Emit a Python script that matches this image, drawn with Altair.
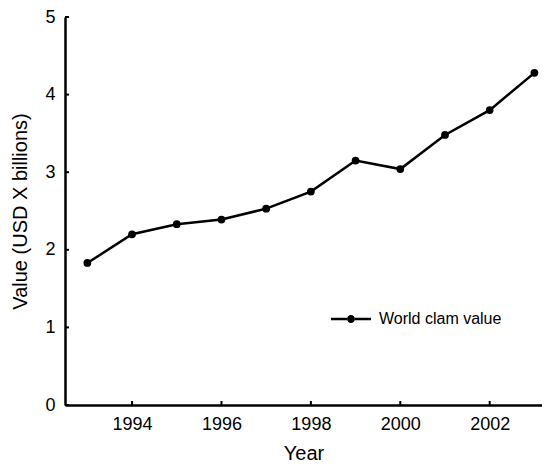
import altair as alt
import pandas as pd

years = [1993, 1994, 1995, 1996, 1997, 1998, 1999, 2000, 2001, 2002, 2003]
values = [1.83, 2.20, 2.33, 2.39, 2.53, 2.75, 3.15, 3.04, 3.48, 3.80, 4.28]
series_name = "World clam value"
x_ticks = [1994, 1996, 1998, 2000, 2002]
y_ticks = [0, 1, 2, 3, 4, 5]

df = pd.DataFrame({"Year": years, "Value": values, "Series": [series_name] * len(years)})
xt = pd.DataFrame({"t": x_ticks})
yt = pd.DataFrame({"t": y_ticks})

W, H = 477, 388
FONT = "Liberation Sans"
xscale = alt.Scale(domain=[1992.5, 2003.17], nice=False, zero=False)
yscale = alt.Scale(domain=[0, 5], nice=False)

legend_path = (
    "M-1,-0.0625L-0.2,-0.0625L-0.2,0.0625L-1,0.0625Z"
    "M0.2,-0.0625L1,-0.0625L1,0.0625L0.2,0.0625Z"
    "M-0.2,0A0.2,0.2,0,1,0,0.2,0A0.2,0.2,0,1,0,-0.2,0Z"
)

xaxis = alt.Axis(values=x_ticks, format="d", ticks=False, grid=False,
                 domainColor="black", domainWidth=2.5,
                 labelFont=FONT, labelFontSize=18, labelColor="black", labelPadding=10,
                 title="Year", titleFont=FONT, titleFontSize=20, titleFontWeight="normal",
                 titleColor="black", titlePadding=10)
yaxis = alt.Axis(values=y_ticks, format="d", ticks=False, grid=False,
                 domainColor="black", domainWidth=2.5,
                 labelFont=FONT, labelFontSize=18, labelColor="black", labelPadding=10,
                 title="Value (USD X billions)", titleFont=FONT, titleFontSize=20,
                 titleFontWeight="normal", titleColor="black", titlePadding=14)

line = alt.Chart(df).mark_line(color="black", strokeWidth=2.5).encode(
    x=alt.X("Year:Q", scale=xscale, axis=xaxis),
    y=alt.Y("Value:Q", scale=yscale, axis=yaxis),
)

points = alt.Chart(df).mark_point(filled=True, size=60, opacity=1).encode(
    x=alt.X("Year:Q", scale=xscale, axis=xaxis),
    y=alt.Y("Value:Q", scale=yscale, axis=yaxis),
    color=alt.Color("Series:N", scale=alt.Scale(range=["black"]),
                    legend=alt.Legend(title=None, orient="none", legendX=266, legendY=282,
                                      symbolType=legend_path, symbolSize=1600,
                                      symbolFillColor="black", symbolStrokeWidth=0,
                                      symbolOpacity=1,
                                      labelFont=FONT, labelFontSize=16, labelColor="black",
                                      labelOffset=8, padding=0)),
)

xticks = alt.Chart(xt).mark_rule(color="black", strokeWidth=2).encode(
    x=alt.X("t:Q", scale=xscale, axis=xaxis),
    y=alt.value(H), y2=alt.value(H - 4),
)
yticks = alt.Chart(yt).mark_rule(color="black", strokeWidth=2).encode(
    y=alt.Y("t:Q", scale=yscale, axis=yaxis),
    x=alt.value(0), x2=alt.value(4),
)

chart = alt.layer(line, points, xticks, yticks).properties(
    width=W, height=H,
    autosize=alt.AutoSizeParams(type="none"),
    padding={"left": 57, "top": 9, "right": 0, "bottom": 57},
).configure_view(stroke=None)

chart.save("out.html", embed_options={"renderer": "svg", "actions": False})
